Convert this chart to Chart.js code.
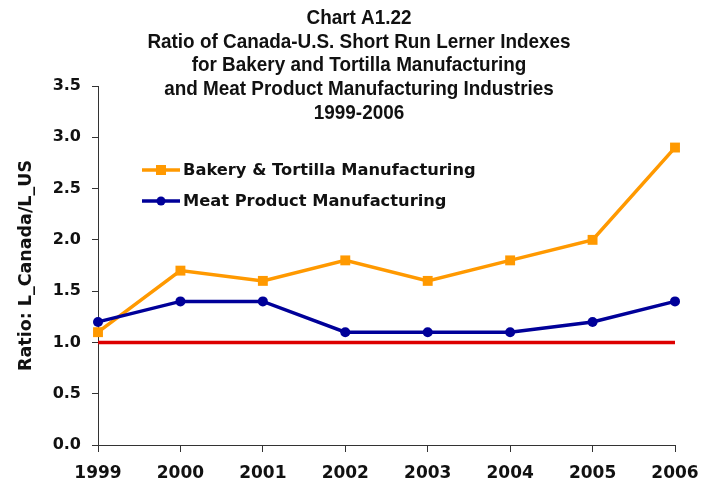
<!DOCTYPE html>
<html>
<head>
<meta charset="utf-8">
<script src="https://cdn.jsdelivr.net/npm/chart.js@4/dist/chart.umd.min.js"></script>
<style>
  html, body { margin: 0; padding: 0; background: #fff; }
  #wrap { width: 712px; height: 481px; }
</style>
</head>
<body>
<div id="wrap"><canvas id="c" width="712" height="481"></canvas></div>
<script>
// Years and ratio series
const years = ['1999', '2000', '2001', '2002', '2003', '2004', '2005', '2006'];
const bakery = [1.1, 1.7, 1.6, 1.8, 1.6, 1.8, 2.0, 2.9];
const meat = [1.2, 1.4, 1.4, 1.1, 1.1, 1.1, 1.2, 1.4];
const parity = [1.0, 1.0, 1.0, 1.0, 1.0, 1.0, 1.0, 1.0];
const yTicks = [0.0, 0.5, 1.0, 1.5, 2.0, 2.5, 3.0, 3.5];

const titleLines = [
  'Chart A1.22',
  'Ratio of Canada-U.S. Short Run Lerner Indexes',
  'for Bakery and Tortilla Manufacturing',
  'and Meat Product Manufacturing Industries',
  '1999-2006'
];
const yTitle = 'Ratio: L_Canada/L_US';

const ORANGE = '#ff9900';
const NAVY = '#000099';
const RED = '#dd0000';
const SANS = '"DejaVu Sans", Verdana, sans-serif';

// Title, y-axis title and in-plot legend
const decor = {
  id: 'decor',
  afterDraw(chart) {
    const ctx = chart.ctx;
    const area = chart.chartArea;
    ctx.save();
    ctx.fillStyle = '#111';
    ctx.textAlign = 'center';
    ctx.textBaseline = 'middle';

    // condensed bold heading
    ctx.save();
    ctx.translate(359, 0);
    ctx.scale(0.9, 1);
    ctx.font = 'bold 21px "Liberation Sans Narrow", "Liberation Sans", Arial, sans-serif';
    titleLines.forEach((t, i) => ctx.fillText(t, 0, 18 + i * 23.8));
    ctx.restore();

    ctx.save();
    ctx.translate(26, (area.top + area.bottom) / 2);
    ctx.rotate(-Math.PI / 2);
    ctx.font = 'bold 17.5px ' + SANS;
    ctx.fillText(yTitle, 0, 0);
    ctx.restore();

    // legend entries for the two series
    const entries = chart.data.datasets.filter(d => d.showInKey);
    entries.forEach((d, i) => {
      const y = 170 + i * 31;
      const x0 = 142, x1 = 180;
      ctx.strokeStyle = d.borderColor;
      ctx.lineWidth = 3.5;
      ctx.beginPath();
      ctx.moveTo(x0, y);
      ctx.lineTo(x1, y);
      ctx.stroke();
      ctx.fillStyle = d.borderColor;
      const cx = (x0 + x1) / 2;
      if (d.pointStyle === 'rect') {
        ctx.fillRect(cx - 5, y - 5, 10, 10);
      } else {
        ctx.beginPath();
        ctx.arc(cx, y, 4.5, 0, Math.PI * 2);
        ctx.fill();
      }
      ctx.fillStyle = '#111';
      ctx.textAlign = 'left';
      ctx.font = 'bold 16.3px ' + SANS;
      ctx.fillText(d.label, 183, y + 1);
    });
    ctx.restore();
  }
};

new Chart(document.getElementById('c'), {
  type: 'line',
  data: {
    labels: years,
    datasets: [
      {
        label: 'Parity',
        data: parity,
        borderColor: RED,
        borderWidth: 3.5,
        pointRadius: 0,
        showInKey: false,
        order: 3
      },
      {
        label: 'Bakery & Tortilla Manufacturing',
        data: bakery,
        borderColor: ORANGE,
        backgroundColor: ORANGE,
        borderWidth: 3.5,
        pointStyle: 'rect',
        pointRadius: 7,
        pointBorderWidth: 0,
        showInKey: true,
        order: 2
      },
      {
        label: 'Meat Product Manufacturing',
        data: meat,
        borderColor: NAVY,
        backgroundColor: NAVY,
        borderWidth: 3.5,
        pointStyle: 'circle',
        pointRadius: 5,
        pointBorderWidth: 0,
        showInKey: true,
        order: 1
      }
    ]
  },
  options: {
    responsive: false,
    animation: false,
    layout: { padding: { top: 86, right: 37, left: 0, bottom: 0 } },
    plugins: { legend: { display: false }, title: { display: false }, tooltip: { enabled: false } },
    scales: {
      x: {
        offset: false,
        grid: { display: true, drawOnChartArea: false, drawTicks: true, tickLength: 7, color: '#333', lineWidth: 1 },
        border: { display: true, color: '#333', width: 1 },
        ticks: { color: '#111', font: { family: SANS, size: 17, weight: 'bold' }, padding: 11, maxRotation: 0, autoSkip: false },
        afterFit(s) { s.height = 36; }
      },
      y: {
        min: 0,
        max: 3.5,
        afterBuildTicks(s) { s.ticks = yTicks.map(v => ({ value: v })); },
        grid: { display: true, drawOnChartArea: false, drawTicks: true, tickLength: 6, color: '#333', lineWidth: 1 },
        border: { display: true, color: '#333', width: 1 },
        ticks: {
          color: '#111',
          font: { family: SANS, size: 16, weight: 'bold' },
          padding: 11,
          callback: v => Number(v).toFixed(1)
        },
        afterFit(s) { s.width = 98; }
      }
    }
  },
  plugins: [decor]
});
</script>
</body>
</html>
